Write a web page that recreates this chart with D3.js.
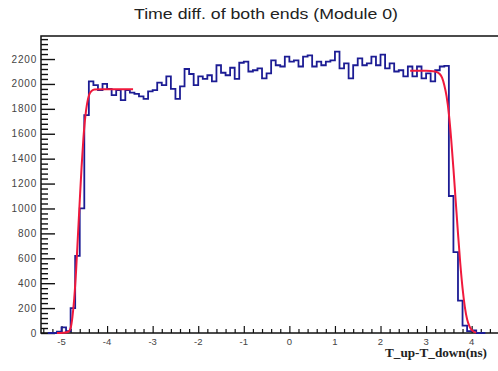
<!DOCTYPE html>
<html>
<head>
<meta charset="utf-8">
<script src="https://cdn.jsdelivr.net/npm/d3@7"></script>
<style>
  html, body { margin: 0; padding: 0; background: #fff; }
  svg { display: block; }
</style>
</head>
<body>
<svg id="chart" width="498" height="371"></svg>
<script>
// Histogram of T_up - T_down: bins of 0.1 ns starting at -5.3 ns
const binStart = -5.3;
const binWidth = 0.1;
const counts = [
  0, 0, 10, 45, 15, 200, 620, 1000, 1750,            // -5.3 .. -4.5
  2020, 1990, 1950, 2000, 1960, 1910, 1950, 1870, 1950, 1930, // -4.4 .. -3.5
  1920, 1900, 1880, 1940, 1950, 2010, 1990, 2060, 1960, 1880, // -3.4 .. -2.5
  1980, 2120, 2080, 1990, 2060, 2040, 2070, 2020, 2150, 2090, // -2.4 .. -1.5
  2070, 2130, 2040, 2170, 2180, 2100, 2110, 2125, 2045, 2085, // -1.4 .. -0.5
  2190, 2150, 2140, 2220, 2180, 2190, 2140, 2220, 2230, 2140, // -0.4 .. 0.5
  2180, 2150, 2180, 2190, 2260, 2125, 2165, 2045, 2150, 2205, // 0.6 .. 1.5
  2150, 2165, 2220, 2150, 2235, 2125, 2165, 2100, 2110, 2060, // 1.6 .. 2.5
  2140, 2060, 2140, 2045, 2085, 2020, 2110, 2140, 2145,       // 2.6 .. 3.4
  1100, 650, 260, 60, 15, 20, 0, 0                   // 3.5 .. 4.2
];

// Fitted edge functions (rising edge on the left, falling edge on the right)
const fitLeftX = [-5.1, -4.95, -4.85, -4.8, -4.76, -4.72, -4.68, -4.64, -4.6, -4.56, -4.52, -4.48, -4.44, -4.4, -4.35, -4.28, -4.1, -3.8, -3.43];
const fitLeftY = [0, 2, 10, 40, 130, 280, 500, 780, 1060, 1330, 1560, 1730, 1840, 1905, 1940, 1955, 1958, 1958, 1958];
const fitRightX = [2.65, 3.0, 3.2, 3.3, 3.35, 3.4, 3.45, 3.5, 3.55, 3.6, 3.65, 3.7, 3.75, 3.8, 3.85, 3.9, 3.95, 4.0, 4.05, 4.1];
const fitRightY = [2105, 2105, 2100, 2080, 2050, 1990, 1900, 1760, 1560, 1320, 1060, 800, 560, 360, 210, 110, 55, 25, 10, 3];

const xTicks = [-5, -4, -3, -2, -1, 0, 1, 2, 3, 4];
const yTicks = [0, 200, 400, 600, 800, 1000, 1200, 1400, 1600, 1800, 2000, 2200];

const titleText = "Time diff. of both ends (Module 0)";
const xTitle = "T_up-T_down(ns)";

const svg = d3.select("#chart");
const frame = { left: 41, right: 499, top: 36, bottom: 333 };

const x = d3.scaleLinear().domain([-5.45, 4.6]).range([frame.left, frame.right]);
const y = d3.scaleLinear().domain([0, 2385]).range([frame.bottom, frame.top]);

// title
svg.append("text")
  .attr("x", 266).attr("y", 19)
  .attr("text-anchor", "middle")
  .attr("font-family", "Liberation Sans, Arial, sans-serif")
  .attr("font-size", 15.5)
  .attr("textLength", 264)
  .attr("lengthAdjust", "spacingAndGlyphs")
  .attr("fill", "#222")
  .text(titleText);

// frame
svg.append("rect")
  .attr("x", frame.left).attr("y", frame.top)
  .attr("width", frame.right - frame.left).attr("height", frame.bottom - frame.top)
  .attr("fill", "none").attr("stroke", "#111").attr("stroke-width", 1.5);

// y axis: ticks inside the frame, major every 200, minor every 40
const yMinor = d3.range(0, 2385, 40).filter(v => v % 200 !== 0);
const yAxisMajor = d3.axisRight(y).tickValues(yTicks).tickSize(14).tickFormat("");
const yAxisMinor = d3.axisRight(y).tickValues(yMinor).tickSize(7).tickFormat("");
[yAxisMajor, yAxisMinor].forEach(ax => {
  const g = svg.append("g").attr("transform", `translate(${frame.left},0)`).call(ax);
  g.select(".domain").remove();
  g.selectAll("line").attr("stroke", "#111").attr("stroke-width", 1.4);
});
svg.append("g").selectAll("text").data(yTicks).join("text")
  .attr("x", 37).attr("y", d => y(d) + 3.5)
  .attr("text-anchor", "end")
  .attr("font-family", "Liberation Sans, Arial, sans-serif")
  .attr("font-size", 10)
  .attr("letter-spacing", 0.8)
  .attr("fill", "#444")
  .text(d => d);

// x axis: ticks inside the frame, major every 1, minor every 0.2
const xMinor = d3.range(-5.4, 4.6, 0.2).map(v => Math.round(v * 10) / 10).filter(v => Math.abs(v - Math.round(v)) > 1e-6);
const xAxisMajor = d3.axisTop(x).tickValues(xTicks).tickSize(7).tickFormat("");
const xAxisMinor = d3.axisTop(x).tickValues(xMinor).tickSize(4).tickFormat("");
[xAxisMajor, xAxisMinor].forEach(ax => {
  const g = svg.append("g").attr("transform", `translate(0,${frame.bottom})`).call(ax);
  g.select(".domain").remove();
  g.selectAll("line").attr("stroke", "#111").attr("stroke-width", 1.2);
});
svg.append("g").selectAll("text").data(xTicks).join("text")
  .attr("x", d => x(d)).attr("y", 345)
  .attr("text-anchor", "middle")
  .attr("font-family", "Liberation Sans, Arial, sans-serif")
  .attr("font-size", 9.5)
  .attr("fill", "#444")
  .text(d => d);

svg.append("text")
  .attr("x", 487).attr("y", 357)
  .attr("text-anchor", "end")
  .attr("font-family", "Liberation Serif, Times New Roman, serif")
  .attr("font-weight", "bold")
  .attr("font-size", 12.5)
  .attr("textLength", 102)
  .attr("lengthAdjust", "spacingAndGlyphs")
  .attr("fill", "#222")
  .text(xTitle);

// histogram as a step line
const pts = counts.map((c, i) => [binStart + i * binWidth, c]);
pts.push([binStart + counts.length * binWidth, counts[counts.length - 1]]);
const stepLine = d3.line().x(d => x(d[0])).y(d => y(d[1])).curve(d3.curveStepAfter);
svg.append("path")
  .attr("d", stepLine(pts))
  .attr("fill", "none")
  .attr("stroke", "#1c1c94")
  .attr("stroke-width", 1.8);

// fit curves
const fitLine = d3.line().x(d => x(d[0])).y(d => y(d[1])).curve(d3.curveMonotoneX);
[[fitLeftX, fitLeftY], [fitRightX, fitRightY]].forEach(([fx, fy]) => {
  svg.append("path")
    .attr("d", fitLine(fx.map((v, i) => [v, fy[i]])))
    .attr("fill", "none")
    .attr("stroke", "#f0193c")
    .attr("stroke-width", 2);
});
</script>
</body>
</html>
